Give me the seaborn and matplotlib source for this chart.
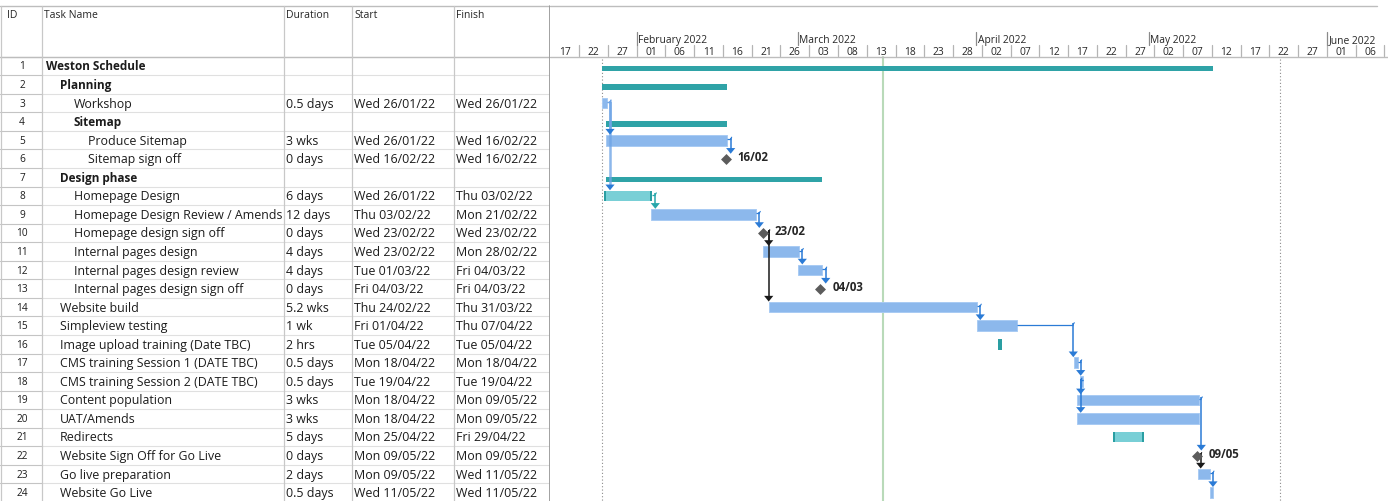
import matplotlib
matplotlib.use("Agg")
import matplotlib.pyplot as plt
import matplotlib.dates as mdates
import pandas as pd
import seaborn as sns

# ---------------- data ----------------
task_ids = list(range(1, 25))
task_names = ["Weston Schedule", "Planning", "Workshop", "Sitemap", "Produce Sitemap",
              "Sitemap sign off", "Design phase", "Homepage Design",
              "Homepage Design Review / Amends", "Homepage design sign off",
              "Internal pages design", "Internal pages design review",
              "Internal pages design sign off", "Website build", "Simpleview testing",
              "Image upload training (Date TBC)", "CMS training Session 1 (DATE TBC)",
              "CMS training Session 2 (DATE TBC)", "Content population", "UAT/Amends",
              "Redirects", "Website Sign Off for Go Live", "Go live preparation",
              "Website Go Live"]
outline_levels = [0, 1, 2, 2, 3, 3, 1, 2, 2, 2, 2, 2, 2, 1, 1, 1, 1, 1, 1, 1, 1, 1, 1, 1]
durations = ["", "", "0.5 days", "", "3 wks", "0 days", "", "6 days", "12 days", "0 days",
             "4 days", "4 days", "0 days", "5.2 wks", "1 wk", "2 hrs", "0.5 days",
             "0.5 days", "3 wks", "3 wks", "5 days", "0 days", "2 days", "0.5 days"]
start_text = ["", "", "Wed 26/01/22", "", "Wed 26/01/22", "Wed 16/02/22", "",
              "Wed 26/01/22", "Thu 03/02/22", "Wed 23/02/22", "Wed 23/02/22",
              "Tue 01/03/22", "Fri 04/03/22", "Thu 24/02/22", "Fri 01/04/22",
              "Tue 05/04/22", "Mon 18/04/22", "Tue 19/04/22", "Mon 18/04/22",
              "Mon 18/04/22", "Mon 25/04/22", "Mon 09/05/22", "Mon 09/05/22",
              "Wed 11/05/22"]
finish_text = ["", "", "Wed 26/01/22", "", "Wed 16/02/22", "Wed 16/02/22", "",
               "Thu 03/02/22", "Mon 21/02/22", "Wed 23/02/22", "Mon 28/02/22",
               "Fri 04/03/22", "Fri 04/03/22", "Thu 31/03/22", "Thu 07/04/22",
               "Tue 05/04/22", "Mon 18/04/22", "Tue 19/04/22", "Mon 09/05/22",
               "Mon 09/05/22", "Fri 29/04/22", "Mon 09/05/22", "Wed 11/05/22",
               "Wed 11/05/22"]
bar_types = ["summary", "summary", "task", "summary", "task", "milestone", "summary",
             "accent", "task", "milestone", "task", "task", "milestone", "task", "task",
             "accent", "task", "task", "task", "task", "accent", "milestone", "task", "task"]
bar_start = ["2022-01-26 00:00", "2022-01-26 00:00", "2022-01-26 00:00", "2022-01-26 14:40",
             "2022-01-26 14:40", "2022-02-16 11:00", "2022-01-26 14:40", "2022-01-26 07:40",
             "2022-02-03 12:00", "2022-02-22 21:40", "2022-02-23 00:15", "2022-03-01 01:00",
             "2022-03-04 22:00", "2022-02-24 01:15", "2022-04-01 02:30", "2022-04-04 19:30",
             "2022-04-18 01:40", "2022-04-19 00:15", "2022-04-18 14:20", "2022-04-18 14:20",
             "2022-04-24 19:10", "2022-05-09 08:25", "2022-05-09 15:00", "2022-05-11 14:40"]
bar_end = ["2022-05-12 06:00", "2022-02-16 18:00", "2022-01-26 19:00", "2022-02-16 18:00",
           "2022-02-16 18:00", "2022-02-16 11:00", "2022-03-05 06:30", "2022-02-03 16:00",
           "2022-02-21 18:00", "2022-02-22 21:40", "2022-03-01 05:15", "2022-03-05 06:30",
           "2022-03-04 22:00", "2022-04-01 04:00", "2022-04-08 03:30", "2022-04-05 13:30",
           "2022-04-18 17:15", "2022-04-19 12:45", "2022-05-09 16:50", "2022-05-09 16:50",
           "2022-04-30 05:45", "2022-05-09 08:25", "2022-05-11 17:15", "2022-05-12 03:10"]
milestone_labels = {6: "16/02", 10: "23/02", 13: "04/03", 22: "09/05"}

# links: predecessor, successor, x of the vertical connector, colour key
link_pred = [3, 3, 5, 8, 9, 10, 10, 11, 12, 14, 15, 17, 18, 18, 19, 22, 23]
link_succ = [5, 8, 6, 9, 10, 11, 14, 12, 13, 15, 17, 18, 19, 20, 22, 23, 24]
link_x = ["2022-01-27 08:40", "2022-01-27 08:40", "2022-02-17 08:10", "2022-02-04 05:45",
          "2022-02-22 07:30", "2022-02-23 22:50", "2022-02-23 22:50", "2022-03-01 19:00",
          "2022-03-05 20:40", "2022-04-01 17:30", "2022-04-17 21:35", "2022-04-19 04:30",
          "2022-04-19 04:30", "2022-04-19 04:30", "2022-05-10 03:40", "2022-05-10 01:10",
          "2022-05-12 04:20"]
link_kind = ["faded", "faded", "blue", "teal", "blue", "black", "black", "blue", "blue",
             "blue", "blue", "blue", "blue", "blue", "blue", "black", "blue"]

view_start = "2022-01-17"
view_days = 145.61
today_line = "2022-03-15 21:00"
dotted_lines = ["2022-01-25 22:00", "2022-05-23 21:00"]

# ---------------- style ----------------
sns.set_theme(style="white")
plt.rcParams['font.family'] = ['Open Sans', 'DejaVu Sans']

SUMMARY = "#2fa3a7"
TASK = "#8cb8ec"
TASK_EDGE = "#a9cbf3"
LTEAL = "#79cfd6"
DTEAL = "#2a9ea2"
MILE = "#5c5c5c"
LINKC = {"blue": "#2b7bd6", "faded": "#6fa5e6", "teal": "#27a7ab", "black": "#1a1a1a"}
TXT = "#1c1c1c"
FS = 8.9
FS_BOLD = 8.5

W, H = 1388, 502
fig = plt.figure(figsize=(W / 100, H / 100), dpi=100)
fig.patch.set_facecolor("white")

ROW_PX = 18.55
ROW1_PX = 67.0
def r(px):
    return 1 + (px - ROW1_PX) / ROW_PX
DY = 1 / ROW_PX
YLIM = (r(H), r(0))

CHART_X0 = 550.4
PX_PER_DAY = 5.7525
DX = 1 / PX_PER_DAY

# ---------------- table ----------------
ax_t = fig.add_axes([0, 0, CHART_X0 / W, 1])
ax_t.set_xlim(0, CHART_X0)
ax_t.set_ylim(*YLIM)
ax_t.axis("off")

col_x = [42, 284, 352, 454]
top = r(7)
ax_t.plot([0, CHART_X0], [top, top], color="#bdbdbd", lw=1.0)
for i in range(0, 25):
    y = i + 0.5
    ax_t.plot([0, col_x[0]], [y, y], color="#c4c4c4", lw=0.8)
    ax_t.plot([col_x[0], CHART_X0], [y, y], color="#e0e0e0", lw=0.8)
ax_t.plot([0, CHART_X0], [0.5, 0.5], color="#bdbdbd", lw=1.0)
for cx in col_x:
    ax_t.plot([cx, cx], [top, YLIM[0]], color="#c8c8c8", lw=0.9)
ax_t.plot([0.6, 0.6], [top, YLIM[0]], color="#c8c8c8", lw=0.9)
ax_t.plot([CHART_X0 - 0.8, CHART_X0 - 0.8], [top, YLIM[0]], color="#9a9a9a", lw=1.3)

hy = r(15.5)
for label, x in zip(["ID", "Task Name", "Duration", "Start", "Finish"], [7, 44, 286, 354, 456]):
    ax_t.text(x, hy, label, fontsize=7.5, color="#262626", ha="left", va="center")

for i, tid in enumerate(task_ids):
    y = tid
    ax_t.text(22, y, str(tid), fontsize=7.3, color=TXT, ha="center", va="center")
    bold = bar_types[i] == "summary"
    ax_t.text(46 + 14 * outline_levels[i], y, task_names[i],
              fontsize=FS_BOLD if bold else FS, color=TXT,
              ha="left", va="center", fontweight="bold" if bold else "normal")
    ax_t.text(286, y, durations[i], fontsize=FS, color=TXT, ha="left", va="center")
    ax_t.text(354, y, start_text[i], fontsize=FS, color=TXT, ha="left", va="center")
    ax_t.text(456, y, finish_text[i], fontsize=FS, color=TXT, ha="left", va="center")

# ---------------- gantt ----------------
ax_g = fig.add_axes([CHART_X0 / W, 0, 1 - CHART_X0 / W, 1])
x0 = mdates.date2num(pd.Timestamp(view_start))
ax_g.set_xlim(x0, x0 + view_days)
ax_g.set_ylim(*YLIM)
ax_g.axis("off")

def dn(s):
    return mdates.date2num(pd.Timestamp(s))

x_right_line = x0 + (1377 - CHART_X0) * DX
ax_g.plot([x0, x_right_line], [top, top], color="#bdbdbd", lw=1.0)
ax_g.plot([x0, x0 + view_days], [0.5, 0.5], color="#bdbdbd", lw=1.0)

# timescale: 5-day ticks
ticks = pd.date_range(view_start, periods=30, freq="5D")
for t in ticks:
    tx = dn(t)
    if x0 + 0.5 < tx < x0 + view_days:
        ax_g.plot([tx, tx], [r(46), r(57.5)], color="#b4b4b4", lw=0.9)
    if tx + 4 < x0 + view_days:
        ax_g.text(tx + 2.5, r(52.6), f"{t.day:02d}", fontsize=7.4, color="#262626",
                  ha="center", va="center")
months = pd.date_range("2022-02-01", periods=5, freq="MS")
for m in months:
    mx = dn(m)
    ax_g.plot([mx, mx], [r(33), r(46)], color="#8a8a8a", lw=0.9)
    ax_g.text(mx + 1.5 * DX, r(40.2), m.strftime("%B %Y"), fontsize=7.4, color="#262626",
              ha="left", va="center")

# background reference lines
ax_g.plot([dn(today_line)] * 2, [0.5, YLIM[0]], color="#b9dab9", lw=1.5, zorder=1)
for d in dotted_lines:
    ax_g.plot([dn(d)] * 2, [0.6, YLIM[0]], color="#8c8c8c", lw=0.8,
              linestyle=(0, (1, 2)), zorder=1)

# bars
for i, tid in enumerate(task_ids):
    kind = bar_types[i]
    s, e = dn(bar_start[i]), dn(bar_end[i])
    if kind == "summary":
        ax_g.barh(tid + 2.25 * DY, e - s, left=s, height=5.5 * DY, color=SUMMARY,
                  linewidth=0, zorder=3)
    elif kind == "task":
        ax_g.barh(tid, e - s, left=s, height=10.7 * DY, color=TASK, edgecolor=TASK_EDGE,
                  linewidth=0.7, zorder=3)
    elif kind == "accent":
        ax_g.barh(tid, e - s, left=s, height=10.7 * DY, color=LTEAL, linewidth=0, zorder=3)
        cap = min(2.2 * DX, (e - s) / 2)
        ax_g.barh(tid, cap, left=s, height=10.7 * DY, color=DTEAL, linewidth=0, zorder=3)
        ax_g.barh(tid, cap, left=e - cap, height=10.7 * DY, color=DTEAL, linewidth=0, zorder=3)

# milestones
ms_rows = [tid for i, tid in enumerate(task_ids) if bar_types[i] == "milestone"]
ms_df = pd.DataFrame({"x": [dn(bar_start[t - 1]) for t in ms_rows], "row": ms_rows})
sns.scatterplot(data=ms_df, x="x", y="row", marker=[(0, 1), (1, 0), (0, -1), (-1, 0)],
                s=62, color=MILE, linewidth=0, ax=ax_g, zorder=6, legend=False)
ax_g.set_xlim(x0, x0 + view_days)
ax_g.set_ylim(*YLIM)
ax_g.axis("off")
for t in ms_rows:
    ax_g.text(dn(bar_start[t - 1]) + 12 * DX, t - 2.5 * DY, milestone_labels[t],
              fontsize=8.3, fontweight="bold", color="#262626", ha="left", va="center")

# links
for p, sc, lx, lk in zip(link_pred, link_succ, link_x, link_kind):
    col = LINKC[lk]
    vx = dn(lx)
    pk = bar_types[p - 1]
    xs = dn(bar_end[p - 1]) if pk != "milestone" else dn(bar_end[p - 1]) + 3 * DX
    yh = p - 1.0 * DY
    tip = sc - (5.0 if bar_types[sc - 1] == "milestone" else 5.6) * DY
    lw = 1.8 if lk == "faded" else 1.1
    alpha = 0.8 if lk == "faded" else 1.0
    # short exit from predecessor, then small raised hook and drop to successor
    ax_g.plot([xs, vx], [yh, yh], color=col, lw=0.9, zorder=4, solid_capstyle="butt")
    ax_g.plot([vx - 0.2 * DX, vx + 1.0 * DX], [yh, yh - 2.0 * DY], color=col, lw=0.8, zorder=4)
    ax_g.plot([vx, vx], [yh - 1.5 * DY, tip - 4 * DY], color=col, lw=lw, alpha=alpha,
              zorder=4, solid_capstyle="butt")
    ahc = LINKC["blue"] if lk == "faded" else col
    ax_g.fill([vx - 4.6 * DX, vx + 4.6 * DX, vx], [tip - 5.7 * DY, tip - 5.7 * DY, tip],
              color=ahc, linewidth=0, zorder=5)

fig.savefig("out.png", dpi=100, facecolor="white")
